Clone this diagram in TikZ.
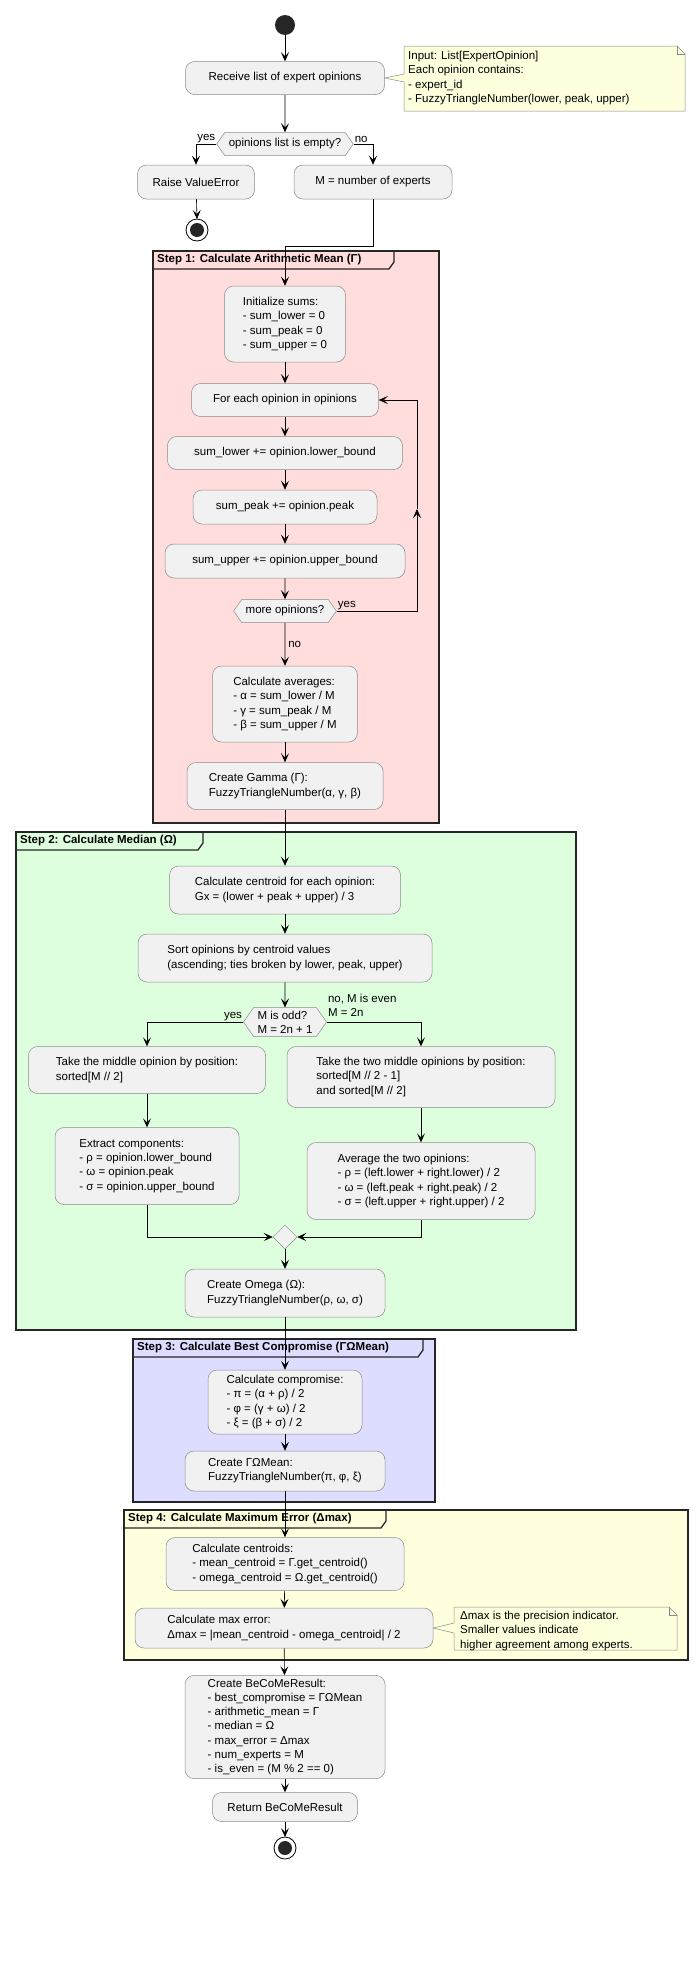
\documentclass[tikz,border=0pt]{standalone}
\usepackage{fontspec}
\setmainfont{Liberation Sans}
\usetikzlibrary{arrows.meta,shapes.geometric,shapes.symbols}

\definecolor{boxfill}{HTML}{F1F1F1}
\definecolor{boxline}{HTML}{8A8A8A}
\definecolor{notefill}{HTML}{FEFFDD}
\definecolor{stepa}{HTML}{FFDDDD}
\definecolor{stepb}{HTML}{DDFFDD}
\definecolor{stepc}{HTML}{DDDDFF}
\definecolor{stepd}{HTML}{FFFFDD}

\tikzset{
  act/.style={draw=boxline, fill=boxfill, rounded corners=9pt, align=left, inner xsep=9pt,
    font=\fontsize{11.5}{14.3}\selectfont, line width=0.5pt},
  dec/.style={draw=boxline, fill=boxfill, shape=signal, signal to=east and west,
    signal pointer angle=110, inner xsep=4pt, inner ysep=3pt, align=left,
    font=\fontsize{11.5}{14.3}\selectfont, line width=0.5pt},
  merge/.style={draw=boxline, fill=boxfill, diamond, minimum size=24pt, inner sep=0pt, line width=0.5pt},
  arr/.style={-{Stealth[length=9pt,width=8pt,inset=4pt]}, line width=0.6pt},
  lbl/.style={font=\fontsize{11.5}{14.3}\selectfont, inner sep=1pt, align=left},
  steptitle/.style={font=\bfseries\fontsize{11.5}{14}\selectfont, anchor=west, inner sep=0pt},
  frameline/.style={line width=1.3pt, draw=black!85},
  notebox/.style={draw=boxline, fill=notefill, line width=0.5pt}
}

\begin{document}
\begin{tikzpicture}[x=1pt,y=-1pt]
\useasboundingbox[fill=white] (0,0) rectangle (696,1973);

% step frames
\draw[frameline, fill=stepa] (153,251) rectangle (439,823);
\draw[frameline] (153,269) -- (389,269) -- (394,262) -- (394,251);
\node[steptitle] at (157,260) {Step 1: Calculate Arithmetic Mean (Γ)};

\draw[frameline, fill=stepb] (16,832) rectangle (576,1330);
\draw[frameline] (16,850) -- (198,850) -- (203,843) -- (203,832);
\node[steptitle] at (20,841) {Step 2: Calculate Median (Ω)};

\draw[frameline, fill=stepc] (133,1339) rectangle (435,1502);
\draw[frameline] (133,1357) -- (418,1357) -- (423,1350) -- (423,1339);
\node[steptitle] at (137,1348) {Step 3: Calculate Best Compromise (ΓΩMean)};

\draw[frameline, fill=stepd] (124,1510) rectangle (688,1660);
\draw[frameline] (124,1528) -- (381,1528) -- (386,1521) -- (386,1510);
\node[steptitle] at (128,1519) {Step 4: Calculate Maximum Error (Δmax)};

% start
\fill[black!85] (285,25) circle (10pt) coordinate (start);
\coordinate (startb) at (285,35);

\node[act, minimum width=199pt, minimum height=33pt] (recv) at (285,78) {Receive list of expert opinions};

% input note
\draw[notebox] (404,46) -- (677,46) -- (685,54) -- (685,111) -- (404,111) -- (404,82)
  -- (recv.east) -- (404,74) -- cycle;
\draw[boxline, line width=0.5pt] (677,46) -- (677,54) -- (685,54);
\node[lbl, anchor=north west] (note1) at (407,50) {Input: List[ExpertOpinion]\\Each opinion contains:\\- expert\_id\\- FuzzyTriangleNumber(lower, peak, upper)};

\node[dec, minimum height=23pt] (empty) at (285,144) {opinions list is empty?};
\node[act, minimum width=117pt, minimum height=34pt] (raise) at (196,182) {Raise ValueError};
\node[act, minimum width=158pt, minimum height=34pt] (count) at (373,182) {M = number of experts};
\coordinate (stop1) at (197,230);
\coordinate (stop1top) at (197,219);
\draw[line width=0.8pt, fill=white] (stop1) circle (11pt);
\fill[black!85] (stop1) circle (7pt);

% step 1
\node[act, minimum width=121pt, minimum height=76pt] (init) at (285,324) {Initialize sums:\\- sum\_lower = 0\\- sum\_peak = 0\\- sum\_upper = 0};
\node[act, minimum width=187pt, minimum height=33pt] (foreach) at (285,400) {For each opinion in opinions};
\node[act, minimum width=235pt, minimum height=33pt] (sumlow) at (285,453) {sum\_lower += opinion.lower\_bound};
\node[act, minimum width=184pt, minimum height=34pt] (sumpeak) at (285,507) {sum\_peak += opinion.peak};
\node[act, minimum width=240pt, minimum height=34pt] (sumup) at (285,561) {sum\_upper += opinion.upper\_bound};
\node[dec, minimum height=23pt] (more) at (285,611) {more opinions?};
\node[act, minimum width=145pt, minimum height=76pt] (avg) at (285,704) {Calculate averages:\\- α = sum\_lower / M\\- γ = sum\_peak / M\\- β = sum\_upper / M};
\node[act, minimum width=196pt, minimum height=47pt] (gamma) at (285,786) {Create Gamma (Γ):\\FuzzyTriangleNumber(α, γ, β)};

% step 2
\node[act, minimum width=231pt, minimum height=48pt] (centr) at (285,890) {Calculate centroid for each opinion:\\Gx = (lower + peak + upper) / 3};
\node[act, minimum width=294pt, minimum height=48pt] (sort) at (285,958) {Sort opinions by centroid values\\(ascending; ties broken by lower, peak, upper)};
\node[dec, minimum height=27pt] (odd) at (285,1022) {M is odd?\\M = 2n + 1};
\node[act, minimum width=237pt, minimum height=47pt] (middle) at (147,1070) {Take the middle opinion by position:\\sorted[M // 2]};
\node[act, minimum width=268pt, minimum height=61pt] (two) at (421,1077) {Take the two middle opinions by position:\\sorted[M // 2 - 1]\\and sorted[M // 2]};
\node[act, minimum width=184pt, minimum height=77pt] (extract) at (147,1166) {Extract components:\\- ρ = opinion.lower\_bound\\- ω = opinion.peak\\- σ = opinion.upper\_bound};
\node[act, minimum width=228pt, minimum height=77pt] (average) at (421,1181) {Average the two opinions:\\- ρ = (left.lower + right.lower) / 2\\- ω = (left.peak + right.peak) / 2\\- σ = (left.upper + right.upper) / 2};
\node[merge] (join) at (285,1237) {};
\node[act, minimum width=200pt, minimum height=48pt] (omega) at (285,1293) {Create Omega (Ω):\\FuzzyTriangleNumber(ρ, ω, σ)};

% step 3
\node[act, minimum width=154pt, minimum height=64pt] (comp) at (285,1402) {Calculate compromise:\\- π = (α + ρ) / 2\\- φ = (γ + ω) / 2\\- ξ = (β + σ) / 2};
\node[act, minimum width=200pt, minimum height=40pt] (gomean) at (285,1471) {Create ΓΩMean:\\FuzzyTriangleNumber(π, φ, ξ)};

% step 4
\node[act, minimum width=238pt, minimum height=53pt] (cents) at (285,1564) {Calculate centroids:\\- mean\_centroid = Γ.get\_centroid()\\- omega\_centroid = Ω.get\_centroid()};
\node[act, minimum width=298pt, minimum height=40pt] (maxerr) at (284,1628) {Calculate max error:\\Δmax = |mean\_centroid - omega\_centroid| / 2};

% precision note
\draw[notebox] (454,1607) -- (669,1607) -- (677,1615) -- (677,1650) -- (454,1650) -- (454,1633)
  -- (maxerr.east) -- (454,1623) -- cycle;
\draw[boxline, line width=0.5pt] (669,1607) -- (669,1615) -- (677,1615);
\node[lbl, anchor=north west] (note2) at (459,1610) {Δmax is the precision indicator.\\Smaller values indicate\\higher agreement among experts.};

% result
\node[act, minimum width=200pt, minimum height=99pt] (result) at (285,1727) {Create BeCoMeResult:\\- best\_compromise = ΓΩMean\\- arithmetic\_mean = Γ\\- median = Ω\\- max\_error = Δmax\\- num\_experts = M\\- is\_even = (M \% 2 == 0)};
\node[act, minimum width=145pt, minimum height=29pt] (ret) at (285,1807) {Return BeCoMeResult};
\coordinate (stop2) at (285,1848);
\coordinate (stop2top) at (285,1837);
\draw[line width=0.8pt, fill=white] (stop2) circle (11pt);
\fill[black!85] (stop2) circle (7pt);

% connectors
\draw[arr] (startb) -- (recv);
\draw[arr] (recv) -- (empty);
\draw[arr] (empty.west) -| (raise.north);
\draw[arr] (empty.east) -| (count.north);
\node[lbl, anchor=south east] at (empty.west) {yes};
\node[lbl, anchor=south west] at (empty.east) {no};
\draw[arr] (raise) -- (stop1top);
\coordinate (bend) at (373,246);
\draw[arr] (count.south) -- (bend) -| (init.north);
\draw[arr] (init) -- (foreach);
\draw[arr] (foreach) -- (sumlow);
\draw[arr] (sumlow) -- (sumpeak);
\draw[arr] (sumpeak) -- (sumup);
\draw[arr] (sumup) -- (more);
\coordinate (loopmid) at (417,509);
\draw[arr] (more.east) -| (loopmid);
\draw[arr] (loopmid) |- (foreach.east);
\node[lbl, anchor=south west] at (more.east) {yes};
\draw[arr] (more) -- node[lbl, right=2pt] {no} (avg);
\draw[arr] (avg) -- (gamma);
\draw[arr] (gamma) -- (centr);
\draw[arr] (centr) -- (sort);
\draw[arr] (sort) -- (odd);
\draw[arr] (odd.west) -| (middle.north);
\draw[arr] (odd.east) -| (two.north);
\node[lbl, anchor=south east] at (odd.west) {yes};
\node[lbl, anchor=south west, yshift=4pt] at (odd.east) {no, M is even\\M = 2n};
\draw[arr] (middle) -- (extract);
\draw[arr] (two) -- (average);
\draw[arr] (extract.south) |- (join.west);
\draw[arr] (average.south) |- (join.east);
\draw[arr] (join) -- (omega);
\draw[arr] (omega) -- (comp);
\draw[arr] (comp) -- (gomean);
\draw[arr] (gomean) -- (cents);
\draw[arr] (cents) -- (maxerr);
\draw[arr] (maxerr) -- (result);
\draw[arr] (result) -- (ret);
\draw[arr] (ret) -- (stop2top);

\end{tikzpicture}
\end{document}
